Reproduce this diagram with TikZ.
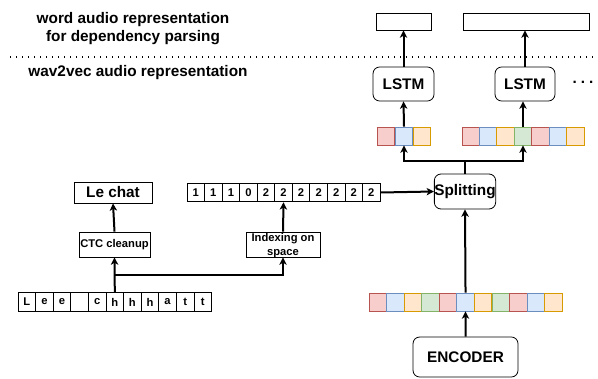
\documentclass[tikz,border=0pt]{standalone}
\usepackage{fontspec}
\setmainfont{Liberation Sans}
\usetikzlibrary{arrows.meta,positioning}
\definecolor{redfill}{HTML}{F8CECC}
\definecolor{redline}{HTML}{B85450}
\definecolor{bluefill}{HTML}{DAE8FC}
\definecolor{blueline}{HTML}{6C8EBF}
\definecolor{orangefill}{HTML}{FFE6CC}
\definecolor{orangeline}{HTML}{D79B00}
\definecolor{greenfill}{HTML}{D5E8D4}
\definecolor{greenline}{HTML}{82B366}

\begin{document}
\begin{tikzpicture}[x=0.75pt,y=-0.75pt,
  every node/.style={font=\bfseries\fontsize{11.5}{13.5}\selectfont},
  b/.style={draw,line width=0.6pt,inner sep=0pt,align=center},
  rb/.style={b,rounded corners=5pt},
  sm/.style={font=\bfseries\fontsize{8.4}{10.5}\selectfont},
  cell/.style={b,sm,minimum width=13.15pt,minimum height=14pt},
  vec/.style={draw=#1line,fill=#1fill,line width=0.6pt,inner sep=0pt,minimum width=13.1pt,minimum height=13.5pt},
  a/.style={-{Stealth[length=5.5pt,width=5.5pt,inset=1.5pt]},line width=1.5pt},
  l/.style={line width=1.5pt}]
  \useasboundingbox (0,0) rectangle (598,378);
  % headings
  \node[align=center] (ttl) at (133,29) {word audio representation\\for dependency parsing};
  \node (wav) at (138,73) {wav2vec audio representation};
  \draw[line width=1pt,dash pattern=on 1pt off 3.5pt] (10,57) -- (598,57);
  % left part
  \foreach \t [count=\i] in {L,e,e,{},c,h,h,h,a,t,t}
    \node[cell] (l\i) at (18+17.6*\i-8.8,302) {\t};
  \node[b,minimum width=58.5pt,minimum height=15.75pt] (lechat) at (113,192.5) {Le chat};
  \node[b,sm,minimum width=53.25pt,minimum height=18.75pt] (ctc) at (114.5,244.5) {CTC cleanup};
  \node[b,sm,minimum width=55.5pt,minimum height=18.75pt,text depth=0pt] (idx) at (283,244.5) {Indexing on\\space};
  \foreach \t [count=\i] in {1,1,1,0,2,2,2,2,2,2,2}
    \node[cell] (n\i) at (187+17.55*\i-8.775,192.5) {\t};
  \path (l6.north) ++(0,-17) coordinate (br);
  \draw[a] (l6.north) -- (ctc.south);
  \draw[a] (br) -| (idx.south);
  \draw[a] (ctc.north) -- (lechat.south);
  \draw[a] (idx.north) -- (n6.south);
  % right part
  \node[rb,minimum width=45.75pt,minimum height=26.25pt] (split) at (465,191.5) {Splitting};
  \node[rb,minimum width=78.75pt,minimum height=30pt] (enc) at (465.5,357) {ENCODER};
  \foreach \c [count=\i] in {red,blue,orange,green,red,blue,orange,green,red,blue,orange}
    \node[vec=\c] (e\i) at (369+17.55*\i-8.775,302) {};
  \foreach \c [count=\i] in {red,blue,orange}
    \node[vec=\c] (s\i) at (377+18*\i-9,136) {};
  \foreach \c [count=\i] in {red,blue,orange,green,red,blue,orange}
    \node[vec=\c] (t\i) at (462+17.43*\i-8.715,136) {};
  \node[rb,minimum width=45.75pt,minimum height=25.5pt] (lstma) at (403.5,84) {LSTM};
  \node[rb,minimum width=45pt,minimum height=25.5pt] (lstmb) at (525,84) {LSTM};
  \node (dots) at (583,82) {.\hspace{3pt}.\hspace{3pt}.};
  \node[b,minimum width=41.25pt,minimum height=12.75pt] (outa) at (403.5,21.5) {};
  \node[b,minimum width=94.5pt,minimum height=12.75pt] (outb) at (526,21.5) {};
  \path (split.north) ++(0,-13) coordinate (fork);
  \draw[a] (enc.north) -- (e6.south);
  \draw[a] (e6.north) -- (split.south);
  \draw[a] (n11.east) -- (split.west);
  \draw[l] (split.north) -- (fork);
  \draw[a] (fork) -| (s2.south);
  \draw[a] (fork) -| (t4.south);
  \draw[a] (s2.north) -- (lstma.south);
  \draw[a] (t4.north) -- (t4.north |- lstmb.south);
  \draw[a] (lstma.north) -- (outa.south);
  \draw[a] (lstmb.north) -- (lstmb.north |- outb.south);
\end{tikzpicture}
\end{document}
